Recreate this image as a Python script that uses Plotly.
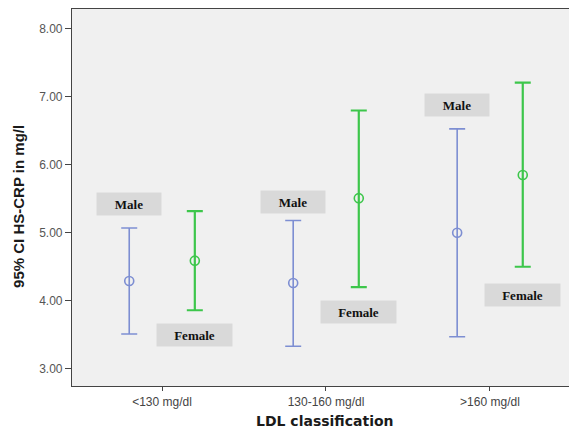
import plotly.graph_objects as go

categories = ["<130 mg/dl", "130-160 mg/dl", ">160 mg/dl"]
male_mean = [4.29, 4.26, 5.00]
male_upper = [5.07, 5.18, 6.53]
male_lower = [3.51, 3.33, 3.47]
female_mean = [4.59, 5.51, 5.85]
female_upper = [5.32, 6.80, 7.21]
female_lower = [3.86, 4.20, 4.50]
male_label_y = [5.42, 5.45, 6.88]
female_label_y = [3.50, 3.83, 4.08]
y_ticks = [3, 4, 5, 6, 7, 8]

offset = 0.2
pos = list(range(len(categories)))
xm = [p - offset for p in pos]
xf = [p + offset for p in pos]

blue = "#7d8ed2"
green = "#3dc64b"

fig = go.Figure()
fig.add_trace(go.Scatter(
    x=xm, y=male_mean, mode="markers", name="Male",
    marker=dict(symbol="circle-open", size=9, color=blue, line=dict(width=1.6, color=blue)),
    error_y=dict(type="data", symmetric=False,
                 array=[u - m for u, m in zip(male_upper, male_mean)],
                 arrayminus=[m - l for m, l in zip(male_mean, male_lower)],
                 color=blue, thickness=1.6, width=8),
))
fig.add_trace(go.Scatter(
    x=xf, y=female_mean, mode="markers", name="Female",
    marker=dict(symbol="circle-open", size=9, color=green, line=dict(width=1.6, color=green)),
    error_y=dict(type="data", symmetric=False,
                 array=[u - m for u, m in zip(female_upper, female_mean)],
                 arrayminus=[m - l for m, l in zip(female_mean, female_lower)],
                 color=green, thickness=2.2, width=8),
))

annots = []
for x, y in zip(xm, male_label_y):
    annots.append(dict(x=x, y=y, xref="x", yref="y", text="<b>Male</b>", showarrow=False,
                       bgcolor="#d9d9d9", width=64, height=22, borderpad=0,
                       font=dict(family="Liberation Serif", size=13, color="#111")))
for x, y in zip(xf, female_label_y):
    annots.append(dict(x=x, y=y, xref="x", yref="y", text="<b>Female</b>", showarrow=False,
                       bgcolor="#d9d9d9", width=75, height=22, borderpad=0,
                       font=dict(family="Liberation Serif", size=13, color="#111")))

# axis titles placed as annotations for exact positioning
annots.append(dict(x=-0.1066, y=0.475, xref="paper", yref="paper", text="<b>95% CI HS-CRP in mg/l</b>",
                   showarrow=False, textangle=-90, xanchor="center", yanchor="middle",
                   font=dict(family="Liberation Sans", size=15, color="#1a1a1a")))
annots.append(dict(x=0.509, y=-0.094, xref="paper", yref="paper", text="<b>LDL classification</b>",
                   showarrow=False, xanchor="center", yanchor="middle",
                   font=dict(family="DejaVu Sans", size=14, color="#1a1a1a")))

fig.update_layout(
    width=569, height=428,
    margin=dict(l=72, r=0, t=9, b=42),
    paper_bgcolor="white", plot_bgcolor="#f0f0f0",
    showlegend=False,
    annotations=annots,
    xaxis=dict(range=[-0.549, 2.482], tickvals=pos, ticktext=categories,
               showgrid=False, zeroline=False, showline=True, linecolor="#444", linewidth=1.2,
               mirror=True, ticks="outside", ticklen=4, tickcolor="#444",
               tickfont=dict(family="Liberation Sans", size=12, color="#444")),
    yaxis=dict(range=[2.745, 8.294], tickvals=y_ticks, ticktext=[f"{v:.2f}" for v in y_ticks],
               showgrid=False, zeroline=False, showline=True, linecolor="#444", linewidth=1.2,
               ticks="outside", ticklen=6, tickcolor="#444",
               tickfont=dict(family="Liberation Sans", size=12, color="#555")),
)

fig.write_html("out.html", config={"displayModeBar": False},
               post_script="document.body.style.margin='0';document.body.style.overflow='hidden';")
